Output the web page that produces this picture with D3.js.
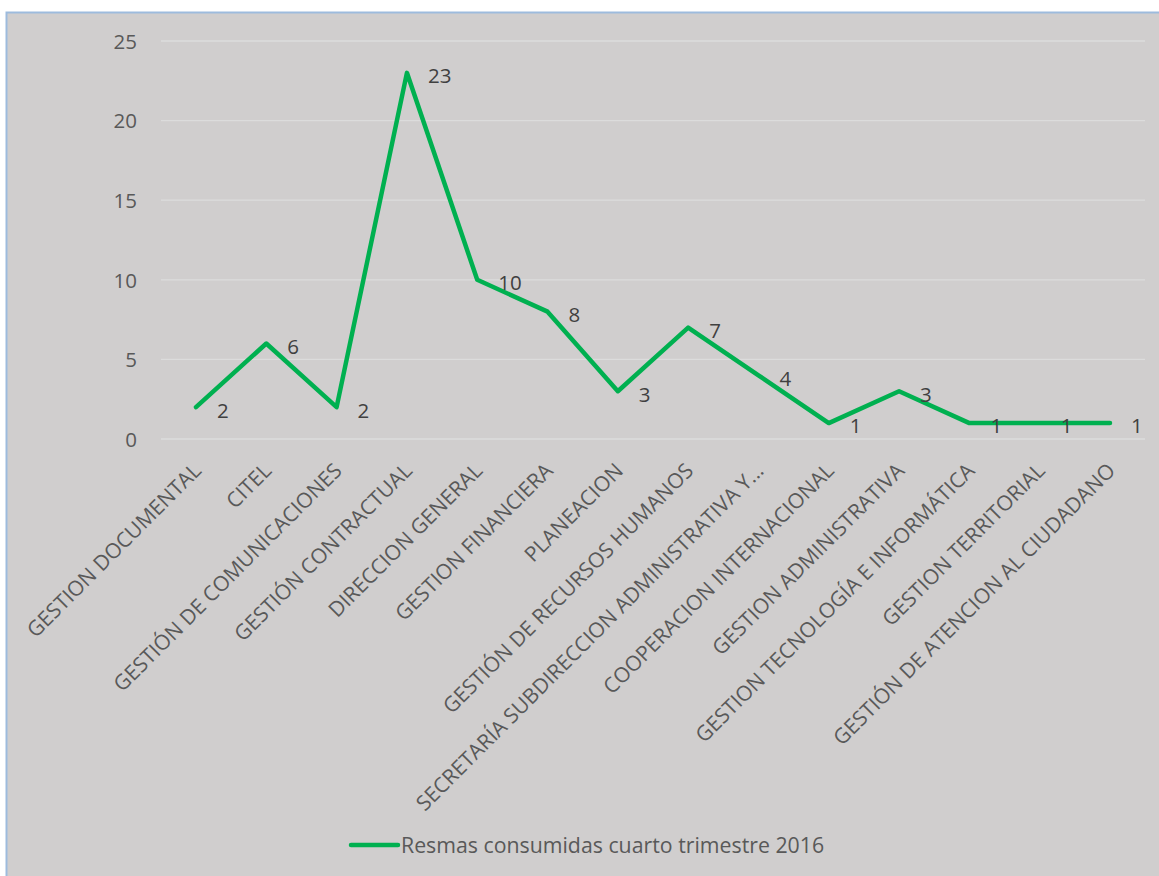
<!DOCTYPE html>
<html><head><meta charset="utf-8">
<script src="https://cdn.jsdelivr.net/npm/d3@7"></script>
<style>body{margin:0;background:#fff;}svg{display:block;}</style>
</head><body>
<script>
const categories = ["GESTION DOCUMENTAL","CITEL","GESTIÓN DE COMUNICACIONES","GESTIÓN CONTRACTUAL","DIRECCION GENERAL","GESTION FINANCIERA","PLANEACION","GESTIÓN DE RECURSOS HUMANOS","SECRETARÍA SUBDIRECCION ADMINISTRATIVA Y...","COOPERACION INTERNACIONAL","GESTION ADMINISTRATIVA","GESTION TECNOLOGÍA E INFORMÁTICA","GESTION TERRITORIAL","GESTIÓN DE ATENCION AL CIUDADANO"];
const values = [2,6,2,23,10,8,3,7,4,1,3,1,1,1];
const yTicks = [0,5,10,15,20,25];
const seriesName = "Resmas consumidas cuarto trimestre 2016";

const W=1159,H=876;
const svg=d3.select("body").append("svg").attr("width",W).attr("height",H);
const font="'Open Sans', sans-serif";
svg.append("rect").attr("x",6.5).attr("y",12.5).attr("width",W).attr("height",H)
  .attr("fill","#d0cece").attr("stroke","#9dbbdd").attr("stroke-width",2);

const x=d3.scalePoint().domain(categories).range([196,1110]);
const y=d3.scaleLinear().domain([0,25]).range([439,41]);
const gx0=161,gx1=1145;

const g=svg.append("g");
g.selectAll("line.grid").data(yTicks).join("line")
  .attr("x1",gx0).attr("x2",gx1).attr("y1",d=>y(d)).attr("y2",d=>y(d))
  .attr("stroke","#dcdcdc").attr("stroke-width",1.3);

const yAxis=d3.axisLeft(y).tickSize(0).tickPadding(0).tickValues(yTicks);
const ya=svg.append("g").attr("transform","translate(137,0)").call(yAxis);
ya.select(".domain").remove();
ya.selectAll("text").attr("font-family",font).attr("font-size",20.5).attr("fill","#595959").attr("dy","0.36em");

const xAxis=d3.axisBottom(x).tickSize(0).tickPadding(0);
const xa=svg.append("g").attr("transform","translate(0,452)").call(xAxis);
xa.select(".domain").remove();
xa.selectAll("text").attr("font-family",font).attr("font-size",21).attr("fill","#595959")
  .attr("text-anchor","end").attr("dy",0).attr("y",0)
  .attr("transform","translate(6,20) rotate(-45)");

const line=d3.line().x((d,i)=>x(categories[i])).y(d=>y(d));
svg.append("path").datum(values).attr("d",line).attr("fill","none")
  .attr("stroke","#00b050").attr("stroke-width",4.5).attr("stroke-linejoin","round").attr("stroke-linecap","round");

svg.selectAll("text.lbl").data(values).join("text").attr("class","lbl")
  .attr("x",(d,i)=>x(categories[i])+21).attr("y",d=>y(d)+3)
  .attr("dy","0.36em").attr("text-anchor","start")
  .attr("font-family",font).attr("font-size",20.5).attr("fill","#404040").text(d=>d);

const lg=svg.append("g");
lg.append("line").attr("x1",351).attr("x2",398).attr("y1",845).attr("y2",845)
  .attr("stroke","#00b050").attr("stroke-width",4.5).attr("stroke-linecap","round");
lg.append("text").attr("x",401).attr("y",845).attr("dy","0.36em")
  .attr("font-family",font).attr("font-size",21.3).attr("fill","#595959").text(seriesName);
</script>
</body></html>
